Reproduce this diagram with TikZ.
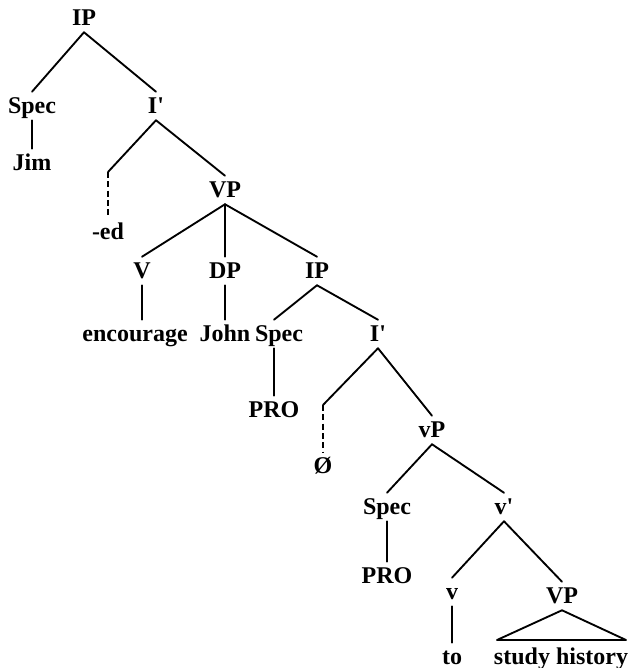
\documentclass[tikz,border=0pt]{standalone}
\usepackage{fontspec}
\setmainfont{Liberation Serif}
\newcommand{\pr}{\textquotesingle}
\begin{document}
\begin{tikzpicture}[x=0.75pt,y=-0.75pt,
  lab/.style={font=\bfseries\fontsize{18}{20}\selectfont, inner sep=0pt, minimum height=21pt, text height=11.5pt, text depth=0pt},
  edge/.style={line width=1.4pt, line cap=round},
  dedge/.style={line width=1.4pt, dash pattern=on 4.5pt off 2.5pt}]
\useasboundingbox (0,0) rectangle (628,668);
% nodes
\node[lab] (ip) at (84,18) {IP};
\node[lab] (spec1) at (32,106) {Spec};
\node[lab] (jim) at (32,163) {Jim};
\node[lab] (ib1) at (156,106) {I\pr};
\coordinate (c1) at (108,172);
\node[lab] (ed) at (108,232) {-ed};
\node[lab] (vp1) at (225,190) {VP};
\node[lab] (v1) at (142,271) {V};
\node[lab] (dp) at (225,271) {DP};
\node[lab] (ip2) at (317,271) {IP};
\node[lab] (enc) at (135,334) {encourage};
\node[lab] (john) at (225,334) {John};
\node[lab] (spec2) at (279,334) {Spec};
\node[lab] (pro1) at (274,410) {PRO};
\node[lab] (ib2) at (378,334) {I\pr};
\coordinate (c2) at (323,405);
\node[lab] (null) at (323,466) {Ø};
\node[lab] (vp2) at (432,430) {vP};
\node[lab] (spec3) at (387,507) {Spec};
\node[lab] (pro2) at (387,576) {PRO};
\node[lab] (vb) at (504,507) {v\pr};
\node[lab] (v2) at (452,592) {v};
\node[lab] (to) at (452,657) {to};
\node[lab] (vp3) at (562,596) {VP};
\node[lab] (sh) at (561,657) {study history};
\coordinate (t1) at (497,640);
\coordinate (t2) at (626,640);
% edges
\draw[edge] (ip.south) -- (spec1.north);
\draw[edge] (ip.south) -- (ib1.north);
\draw[edge] (spec1.south) -- (jim.north);
\draw[edge] (ib1.south) -- (c1);
\draw[dedge] (c1) -- (ed.north);
\draw[edge] (ib1.south) -- (vp1.north);
\draw[edge] (vp1.south) -- (v1.north);
\draw[edge] (vp1.south) -- (dp.north);
\draw[edge] (vp1.south) -- (ip2.north);
\draw[edge] (v1.south) -- (v1.south |- enc.north);
\draw[edge] (dp.south) -- (john.north);
\draw[edge] (ip2.south) -- (spec2.north -| pro1.north);
\draw[edge] (ip2.south) -- (ib2.north);
\draw[edge] (spec2.south -| pro1.north) -- (pro1.north);
\draw[edge] (ib2.south) -- (c2);
\draw[dedge] (c2) -- (null.north);
\draw[edge] (ib2.south) -- (vp2.north);
\draw[edge] (vp2.south) -- (spec3.north);
\draw[edge] (vp2.south) -- (vb.north);
\draw[edge] (spec3.south) -- (pro2.north);
\draw[edge] (vb.south) -- (v2.north);
\draw[edge] (vb.south) -- (vp3.north);
\draw[edge] (v2.south) -- (to.north);
\draw[edge, line join=round] (vp3.south) -- (t1) -- (t2) -- cycle;
\end{tikzpicture}
\end{document}
